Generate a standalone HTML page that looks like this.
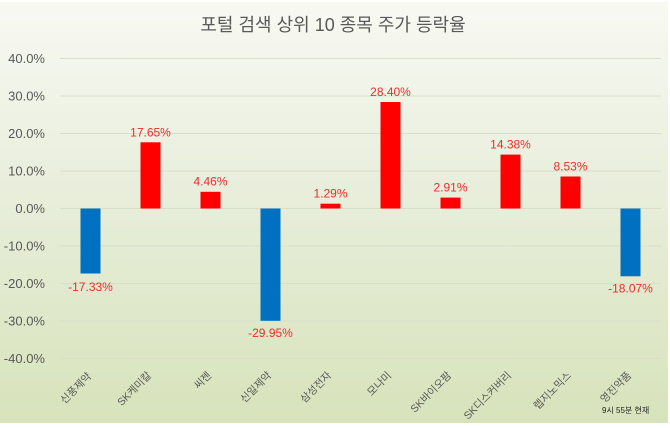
<!DOCTYPE html>
<html>
<head>
<meta charset="utf-8">
<style>
html,body{margin:0;padding:0;background:#ffffff;}
body{width:670px;height:428px;overflow:hidden;position:relative;}
svg{display:block;}
</style>
</head>
<body>
<svg width="670" height="428" viewBox="0 0 670 428" xmlns="http://www.w3.org/2000/svg">
  <defs>
    <linearGradient id="bg" x1="0" y1="0" x2="0" y2="1">
      <stop offset="0" stop-color="#f8f9f3"/>
      <stop offset="0.45" stop-color="#e8eedb"/>
      <stop offset="1" stop-color="#d7e3bb"/>
    </linearGradient>
  </defs>
  <rect x="0" y="0" width="670" height="428" fill="#ffffff"/>
  <rect x="0" y="2" width="668" height="421" fill="url(#bg)"/>

  <!-- title -->
  <text x="333" y="31" text-anchor="middle" font-family="'Liberation Sans','Noto Sans CJK KR',sans-serif" font-size="18" fill="#595959">포털 검색 상위 10 종목 주가 등락율</text>

  <!-- gridlines -->
  <g stroke="#d9decb" stroke-width="1">
    <line x1="60" y1="58.5" x2="661" y2="58.5"/>
    <line x1="60" y1="96" x2="661" y2="96"/>
    <line x1="60" y1="133.5" x2="661" y2="133.5"/>
    <line x1="60" y1="171" x2="661" y2="171"/>
    <line x1="60" y1="208.5" x2="661" y2="208.5"/>
    <line x1="60" y1="246" x2="661" y2="246"/>
    <line x1="60" y1="283.5" x2="661" y2="283.5"/>
    <line x1="60" y1="321" x2="661" y2="321"/>
    <line x1="60" y1="358.5" x2="661" y2="358.5"/>
  </g>

  <!-- y tick labels -->
  <g font-family="'Liberation Sans',sans-serif" font-size="13" fill="#595959" text-anchor="end">
    <text x="45" y="63">40.0%</text>
    <text x="45" y="100.5">30.0%</text>
    <text x="45" y="138">20.0%</text>
    <text x="45" y="175.5">10.0%</text>
    <text x="45" y="213">0.0%</text>
    <text x="45" y="250.5">-10.0%</text>
    <text x="45" y="288">-20.0%</text>
    <text x="45" y="325.5">-30.0%</text>
    <text x="45" y="363">-40.0%</text>
  </g>

  <!-- bars: zero at 208.5, 3.75px per % -->
  <g>
    <rect x="80.5" y="208.5" width="20" height="65.0" fill="#0070c0"/>
    <rect x="140.5" y="142.3" width="20" height="66.2" fill="#ff0000"/>
    <rect x="200.5" y="191.8" width="20" height="16.7" fill="#ff0000"/>
    <rect x="260.5" y="208.5" width="20" height="112.3" fill="#0070c0"/>
    <rect x="320.5" y="203.7" width="20" height="4.8" fill="#ff0000"/>
    <rect x="380.5" y="102.0" width="20" height="106.5" fill="#ff0000"/>
    <rect x="440.5" y="197.6" width="20" height="10.9" fill="#ff0000"/>
    <rect x="500.5" y="154.6" width="20" height="53.9" fill="#ff0000"/>
    <rect x="560.5" y="176.5" width="20" height="32.0" fill="#ff0000"/>
    <rect x="620.5" y="208.5" width="20" height="67.8" fill="#0070c0"/>
  </g>

  <!-- data labels -->
  <g font-family="'Liberation Sans',sans-serif" font-size="12" fill="#e5302c" text-anchor="middle">
    <text x="90.5" y="291">-17.33%</text>
    <text x="150.5" y="136.5">17.65%</text>
    <text x="210.5" y="185.5">4.46%</text>
    <text x="270.5" y="337">-29.95%</text>
    <text x="330.5" y="197.5">1.29%</text>
    <text x="390.5" y="96">28.40%</text>
    <text x="450.5" y="191.5">2.91%</text>
    <text x="510.5" y="148.5">14.38%</text>
    <text x="570.5" y="170.5">8.53%</text>
    <text x="630.5" y="292.5">-18.07%</text>
  </g>

  <!-- category labels -->
  <g font-family="'Liberation Sans','Noto Sans CJK KR',sans-serif" font-size="10.5" fill="#595959" text-anchor="end">
    <text transform="translate(92,377) rotate(-45)">신풍제약</text>
    <text transform="translate(152,376) rotate(-45)">SK케미칼</text>
    <text transform="translate(212,376) rotate(-45)">씨젠</text>
    <text transform="translate(272,376) rotate(-45)">신일제약</text>
    <text transform="translate(332,376) rotate(-45)">삼성전자</text>
    <text transform="translate(392,376) rotate(-45)">모나미</text>
    <text transform="translate(452,376) rotate(-45)">SK바이오팜</text>
    <text transform="translate(512,376) rotate(-45)">SK디스커버리</text>
    <text transform="translate(572,376) rotate(-45)">렙지노믹스</text>
    <text transform="translate(632,376) rotate(-45)">영진약품</text>
  </g>

  <!-- footnote -->
  <text x="602" y="413" font-family="'Liberation Sans','Noto Sans CJK KR',sans-serif" font-size="8" fill="#222222">9시 55분 현재</text>
</svg>
</body>
</html>
